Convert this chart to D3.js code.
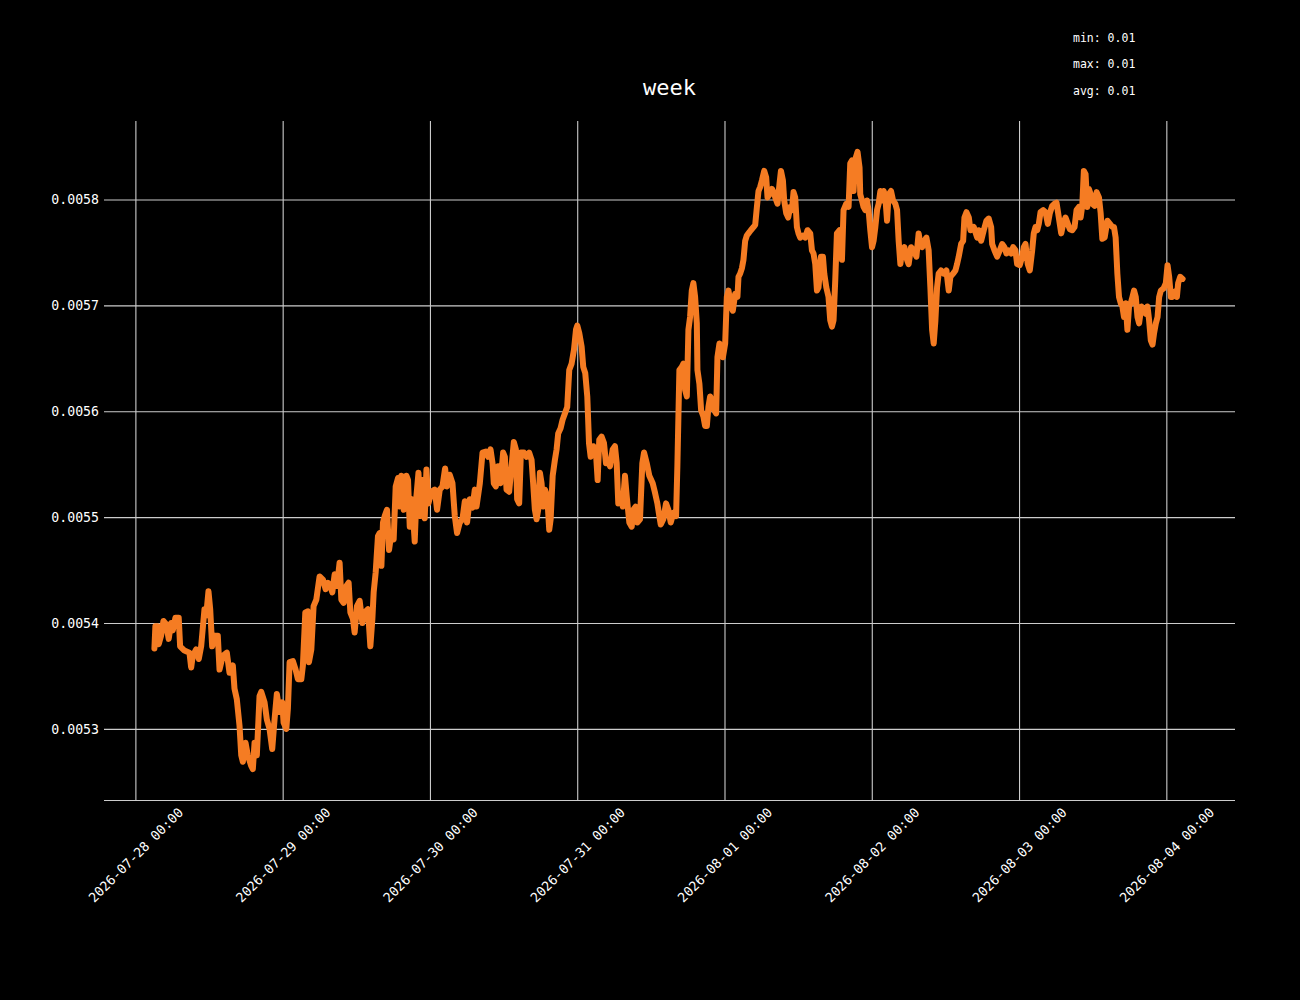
<!DOCTYPE html>
<html><head><meta charset="utf-8">
<script src="https://cdn.jsdelivr.net/npm/d3@7"></script>
<style>html,body{margin:0;padding:0;background:#000;} svg{display:block;}</style>
</head><body><svg id="chart" width="1300" height="1000"></svg>
<script>
const title = "week";
const statsLines = ["min: 0.01", "max: 0.01", "avg: 0.01"];
const startTime = "2026-07-28T00:00:00Z";
// hours since startTime
const hours = [
3.10,3.26,3.64,3.80,4.19,4.57,5.01,5.43,5.82,6.09,6.53,7.06,7.29,7.99,8.81,9.09,9.35,9.90,10.33,10.72,
11.26,11.54,11.91,12.19,12.51,12.89,13.43,13.71,14.24,14.90,15.34,15.88,16.15,16.53,16.97,17.25,17.51,17.95,18.32,18.88,
19.14,19.42,19.79,20.23,20.51,21.05,21.42,21.86,22.30,22.68,23.05,23.50,23.94,24.15,24.59,24.85,25.13,25.67,26.11,26.48,
27.04,27.30,27.69,28.11,
28.28,28.67,29.04,29.48,30.02,30.56,31.00,31.38,31.77,32.09,32.47,32.85,33.28,33.56,33.94,34.38,34.75,35.03,35.45,35.73,
36.11,36.55,36.99,37.36,37.90,38.29,38.62,38.83,39.16,39.53,39.81,40.09,40.35,40.63,41.00,41.33,41.72,42.09,42.42,42.80,
43.07,43.35,43.73,44.17,44.43,44.71,45.08,45.52,45.80,46.13,46.45,46.78,47.15,47.43,47.75,48.24,48.78,49.16,49.60,50.04,
50.47,50.79,51.23,51.67,52.05,52.42,52.86,53.30,53.68,54.05,54.49,54.94,55.31,55.59,
56.13,56.57,57.11,57.48,57.87,58.20,58.41,58.74,59.11,59.50,59.93,60.21,60.48,60.91,61.30,61.67,62.00,62.21,62.54,62.82,
63.31,63.75,64.17,64.56,64.82,65.10,65.38,65.64,65.92,66.19,66.46,66.73,67.11,67.44,67.67,68.00,68.36,68.64,68.90,69.29,
69.62,70.00,70.37,70.70,71.09,71.47,71.80,72.01,72.33,72.72,72.98,73.31,73.64,73.92,74.19,74.62,75.05,75.33,75.59,75.98,
76.36,76.69,77.06,77.34,77.78,78.15,78.43,78.69,79.08,79.41,79.78,80.06,80.49,80.88,81.14,81.53,81.79,82.23,82.61,82.89,
83.33,83.75,
84.30,84.68,85.06,85.38,85.61,86.03,86.47,86.85,87.24,87.67,88.11,88.32,88.49,88.65,89.05,89.31,89.58,89.86,90.12,90.39,
90.67,90.93,91.21,91.49,91.59,91.91,92.19,92.56,92.84,93.12,93.38,93.66,93.93,94.31,94.64,94.85,95.18,95.41,95.74,96.11,
96.38,96.65,97.04,97.36,97.74,98.11,98.28,98.55,98.83,99.09,99.37,99.64,99.90,100.29,100.73,101.00,101.28,101.54,101.82,102.10,
102.47,102.79,103.01,103.34,103.73,103.99,104.27,104.64,104.97,105.20,105.52,105.73,106.06,106.38,106.71,106.99,107.25,107.52,107.80,108.06,
108.34,108.77,109.15,109.53,109.97,110.25,110.51,110.79,111.07,111.32,
111.72,112.04,112.26,112.59,112.95,113.23,113.51,113.77,114.05,114.32,114.75,115.14,115.40,115.84,116.22,116.49,116.77,117.03,117.31,117.68,
118.01,118.12,118.40,118.66,118.94,119.22,119.48,119.76,120.04,120.30,120.58,120.86,121.12,121.40,121.68,121.94,122.21,122.49,122.75,123.14,
123.47,123.84,124.12,124.38,124.66,124.94,125.31,125.75,126.01,126.40,126.83,127.27,127.64,127.92,128.20,128.57,128.90,129.27,129.55,129.83,
130.09,130.37,130.64,130.90,131.29,131.72,132.16,132.54,132.81,133.25,133.63,133.90,134.17,134.56,134.89,135.10,135.43,135.81,136.08,136.62,
137.18,
137.43,137.82,138.25,138.69,139.06,139.45,139.62,139.99,140.43,140.86,141.25,141.62,141.95,142.32,142.71,143.04,143.41,143.69,144.11,144.51,
144.77,145.05,145.42,145.75,146.14,146.40,146.68,146.96,147.22,147.50,147.94,148.31,148.69,149.01,149.40,149.78,150.11,150.48,150.87,151.20,
151.57,151.95,152.28,152.67,153.04,153.37,153.75,154.03,154.30,154.56,154.84,155.12,155.38,155.66,155.94,156.31,156.64,157.02,157.30,157.57,
157.95,158.39,158.81,159.21,159.47,159.74,160.02,160.29,160.57,160.84,161.10,161.38,161.66,161.92,162.20,162.48,162.74,163.02,163.30,163.56,
163.95,164.28,164.65,164.93,165.19,165.47,165.75,166.01,166.29,166.57,166.83,167.11,167.55,167.92,168.20,168.46,168.74,169.02,169.39,169.72,
169.93,170.26,170.65
];
const values = [
0.005376,0.005397,0.005397,0.005380,0.005388,0.005402,0.005399,0.005385,0.005400,0.005393,0.005405,0.005405,0.005378,0.005374,0.005372,0.005358,0.005369,0.005375,0.005366,0.005378,
0.005413,0.005407,0.005430,0.005413,0.005378,0.005388,0.005388,0.005356,0.005369,0.005372,0.005353,0.005360,0.005338,0.005328,0.005303,0.005275,0.005269,0.005287,0.005275,0.005265,
0.005262,0.005287,0.005275,0.005331,0.005335,0.005325,0.005309,0.005300,0.005281,0.005309,0.005333,0.005316,0.005325,0.005306,0.005300,0.005319,0.005363,0.005364,0.005356,0.005347,
0.005347,0.005360,0.005410,0.005411,
0.005363,0.005375,0.005416,0.005422,0.005444,0.005441,0.005432,0.005438,0.005435,0.005429,0.005446,0.005435,0.005457,0.005422,0.005419,0.005435,0.005438,0.005410,0.005404,0.005391,
0.005416,0.005421,0.005400,0.005410,0.005413,0.005378,0.005404,0.005429,0.005448,0.005482,0.005485,0.005454,0.005495,0.005501,0.005507,0.005469,0.005485,0.005479,0.005529,0.005537,
0.005510,0.005539,0.005507,0.005539,0.005535,0.005491,0.005517,0.005477,0.005520,0.005542,0.005501,0.005535,0.005499,0.005545,0.005513,0.005524,0.005526,0.005507,0.005526,0.005529,
0.005546,0.005529,0.005540,0.005532,0.005501,0.005485,0.005495,0.005498,0.005515,0.005495,0.005517,0.005509,0.005526,0.005510,
0.005532,0.005561,0.005562,0.005557,0.005564,0.005551,0.005532,0.005529,0.005548,0.005532,0.005561,0.005557,0.005526,0.005524,0.005548,0.005571,0.005564,0.005517,0.005513,0.005561,
0.005561,0.005557,0.005561,0.005554,0.005532,0.005507,0.005498,0.005507,0.005542,0.005532,0.005510,0.005526,0.005520,0.005488,0.005498,0.005539,0.005554,0.005564,0.005579,0.005584,
0.005592,0.005598,0.005604,0.005639,0.005645,0.005658,0.005677,0.005681,0.005674,0.005661,0.005642,0.005636,0.005614,0.005570,0.005557,0.005567,0.005561,0.005535,0.005573,0.005576,
0.005570,0.005551,0.005554,0.005548,0.005564,0.005567,0.005551,0.005513,0.005517,0.005510,0.005539,0.005520,0.005495,0.005491,0.005507,0.005510,0.005495,0.005498,0.005551,0.005561,
0.005551,0.005539,
0.005532,0.005523,0.005513,0.005501,0.005493,0.005498,0.005513,0.005507,0.005495,0.005504,0.005501,0.005548,0.005595,0.005639,0.005642,0.005645,0.005620,0.005614,0.005677,0.005689,
0.005714,0.005721,0.005708,0.005683,0.005639,0.005626,0.005601,0.005595,0.005586,0.005586,0.005604,0.005614,0.005611,0.005601,0.005598,0.005651,0.005664,0.005658,0.005651,0.005664,
0.005708,0.005714,0.005699,0.005695,0.005711,0.005708,0.005727,0.005730,0.005735,0.005743,0.005761,0.005766,0.005768,0.005771,0.005774,0.005776,0.005793,0.005808,0.005812,0.005818,
0.005827,0.005821,0.005802,0.005805,0.005810,0.005807,0.005802,0.005796,0.005815,0.005827,0.005818,0.005799,0.005787,0.005783,0.005793,0.005790,0.005807,0.005802,0.005774,0.005768,
0.005764,0.005766,0.005764,0.005771,0.005768,0.005752,0.005749,0.005739,0.005714,0.005717,
0.005746,0.005746,0.005730,0.005717,0.005708,0.005686,0.005680,0.005686,0.005724,0.005768,0.005771,0.005743,0.005790,0.005796,0.005793,0.005834,0.005837,0.005808,0.005838,0.005845,
0.005830,0.005805,0.005799,0.005793,0.005790,0.005799,0.005790,0.005771,0.005755,0.005761,0.005774,0.005790,0.005796,0.005808,0.005799,0.005808,0.005802,0.005780,0.005805,0.005808,
0.005799,0.005796,0.005790,0.005761,0.005739,0.005752,0.005755,0.005743,0.005739,0.005755,0.005752,0.005746,0.005768,0.005758,0.005755,0.005761,0.005764,0.005752,0.005717,0.005677,
0.005664,0.005686,0.005717,0.005730,0.005733,0.005730,0.005733,0.005714,0.005727,0.005730,0.005733,0.005739,0.005746,0.005758,0.005761,0.005783,0.005788,0.005783,0.005771,0.005774,
0.005764,
0.005771,0.005761,0.005771,0.005780,0.005782,0.005774,0.005758,0.005752,0.005746,0.005752,0.005758,0.005755,0.005749,0.005752,0.005749,0.005755,0.005752,0.005739,0.005738,0.005746,
0.005755,0.005758,0.005739,0.005733,0.005752,0.005768,0.005774,0.005771,0.005777,0.005788,0.005790,0.005788,0.005777,0.005787,0.005794,0.005796,0.005797,0.005783,0.005768,0.005777,
0.005783,0.005777,0.005772,0.005771,0.005774,0.005790,0.005793,0.005783,0.005794,0.005827,0.005824,0.005793,0.005810,0.005805,0.005796,0.005794,0.005807,0.005802,0.005787,0.005763,
0.005764,0.005780,0.005777,0.005774,0.005774,0.005764,0.005730,0.005708,0.005702,0.005699,0.005689,0.005702,0.005677,0.005699,0.005702,0.005708,0.005714,0.005708,0.005689,0.005683,
0.005699,0.005695,0.005692,0.005699,0.005686,0.005667,0.005663,0.005674,0.005683,0.005689,0.005708,0.005714,0.005716,0.005721,0.005738,0.005727,0.005708,0.005708,0.005713,0.005708,
0.005721,0.005727,0.005725
];
const yTicks = [0.0053, 0.0054, 0.0055, 0.0056, 0.0057, 0.0058];
const xTicks = ["2026-07-28T00:00:00Z","2026-07-29T00:00:00Z","2026-07-30T00:00:00Z","2026-07-31T00:00:00Z",
                "2026-08-01T00:00:00Z","2026-08-02T00:00:00Z","2026-08-03T00:00:00Z","2026-08-04T00:00:00Z"];

const FONT = "'DejaVu Sans Mono', monospace";
const m = {left: 104, right: 1235, top: 121, bottom: 800};
const t0 = new Date(startTime).getTime();
const data = hours.map((h, i) => ({t: new Date(t0 + h * 3600000), v: values[i]}));
const tExt = d3.extent(data, d => +d.t), vExt = d3.extent(data, d => d.v);
const tPad = (tExt[1] - tExt[0]) * 0.05, vPad = (vExt[1] - vExt[0]) * 0.05;
const x = d3.scaleUtc().domain([new Date(tExt[0] - tPad), new Date(tExt[1] + tPad)]).range([m.left - 1, m.right - 1]);
const y = d3.scaleLinear().domain([vExt[0] - vPad, vExt[1] + vPad]).range([m.bottom, m.top]);

const svg = d3.select("#chart");
svg.append("rect").attr("width", 1300).attr("height", 1000).attr("fill", "#000");

const gridColor = "#cccccc";
// Y axis with grid
const yAxis = svg.append("g").attr("transform", `translate(${m.left},0)`)
  .call(d3.axisLeft(y).tickValues(yTicks).tickSize(-(m.right - m.left)).tickPadding(5).tickFormat(d3.format(".4f")));
yAxis.select(".domain").remove();
yAxis.selectAll(".tick line").attr("stroke", gridColor).attr("stroke-width", 1.1);
yAxis.selectAll(".tick text").attr("fill", "#fff").style("font-family", FONT).style("font-size", "13.2px");

// X axis with grid
const xAxis = svg.append("g").attr("transform", `translate(0,${m.bottom})`)
  .call(d3.axisBottom(x).tickValues(xTicks.map(s => new Date(s))).tickSize(-(m.bottom - m.top)).tickSizeOuter(0)
    .tickFormat(d3.utcFormat("%Y-%m-%d %H:%M")));
xAxis.select(".domain").remove();
xAxis.selectAll(".tick line").attr("stroke", gridColor).attr("stroke-width", 1.1);
xAxis.selectAll(".tick text").attr("fill", "#fff").style("font-family", FONT).style("font-size", "13.2px")
  .attr("text-anchor", "middle").attr("y", 0).attr("dy", "0.35em")
  .attr("transform", "translate(0,55) rotate(-45)");
// bottom spine
svg.append("line").attr("x1", m.left).attr("x2", m.right).attr("y1", m.bottom + 0.5).attr("y2", m.bottom + 0.5)
  .attr("stroke", gridColor).attr("stroke-width", 1.1);

// Line
const line = d3.line().x(d => x(d.t)).y(d => y(d.v));
svg.append("path").datum(data).attr("d", line)
  .attr("fill", "none").attr("stroke", "#f57c23").attr("stroke-width", 6)
  .attr("stroke-linejoin", "round").attr("stroke-linecap", "round");

// Title
svg.append("text").attr("x", (m.left + m.right) / 2).attr("y", 95).attr("text-anchor", "middle")
  .attr("fill", "#fff").style("font-family", FONT).style("font-size", "22px").text(title);

// Stats
svg.selectAll(".stat").data(statsLines).enter().append("text").attr("class", "stat")
  .attr("x", 1073).attr("y", (d, i) => 41.7 + i * 26.7)
  .attr("fill", "#fff").style("font-family", FONT).style("font-size", "11.5px").text(d => d);
</script></body></html>
